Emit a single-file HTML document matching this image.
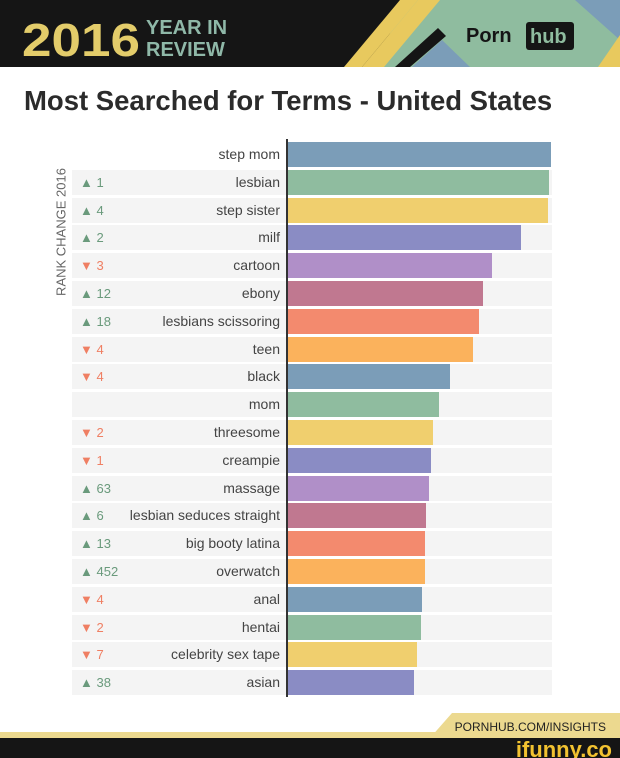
<!DOCTYPE html><html><head><style>
body{margin:0;width:620px;height:758px;background:#fff;font-family:"Liberation Sans",sans-serif;position:relative;overflow:hidden}
.a{position:absolute}
.row{position:absolute;left:72px;width:480px;height:25px;background:#f4f4f4}
.lab{position:absolute;right:340px;width:220px;text-align:right;font-size:14px;color:#444;line-height:25px}
.ch{position:absolute;left:80px;font-size:13px;line-height:25px}
.up{color:#6a9a7c}.dn{color:#ef7f63}
.bar{position:absolute;left:287px;height:25px}
</style></head><body>
<svg class="a" style="left:0;top:0" width="620" height="67">
<rect width="620" height="67" fill="#151515"/>
<polygon points="400,0 620,0 620,67 380,67" fill="#8fbc9f"/>
<polygon points="344,67 400,0 418,0 362,67" fill="#e8c95e"/>
<polygon points="362,67 418,0 440,0 384,67" fill="#e8c95e"/>
<polygon points="395,67 438,28 446,36 410,67" fill="#151515"/>
<polygon points="412,67 442,40 470,67" fill="#7b9db8"/>
<polygon points="575,0 620,0 620,40" fill="#7b9db8"/>
<polygon points="598,67 620,35 620,67" fill="#e8c95e"/>
<text x="22" y="56" font-family="Liberation Sans" font-weight="bold" font-size="46" fill="#e3cc6a" textLength="118" lengthAdjust="spacingAndGlyphs">2016</text>
<text x="146" y="34" font-family="Liberation Sans" font-weight="bold" font-size="20" fill="#8fb8a8">YEAR IN</text>
<text x="146" y="56" font-family="Liberation Sans" font-weight="bold" font-size="20" fill="#8fb8a8">REVIEW</text>
<text x="466" y="42" font-family="Liberation Sans" font-weight="bold" font-size="20" fill="#151515">Porn</text>
<rect x="526" y="22" width="48" height="28" rx="3" fill="#151515"/>
<text x="530" y="43" font-family="Liberation Sans" font-weight="bold" font-size="20" fill="#8fbc9f">hub</text>
</svg>
<div class="a" style="left:24px;top:85px;font-size:27.5px;font-weight:bold;color:#2b2b2b;white-space:nowrap">Most Searched for Terms - United States</div>
<div class="a" style="left:61px;top:232px;transform:translate(-50%,-50%) rotate(-90deg);font-size:13px;color:#666;white-space:nowrap">RANK CHANGE 2016</div>
<div id="c"></div>
<div class="a" style="left:286px;top:139px;width:2px;height:558px;background:#333"></div>
<svg class="a" style="left:0;top:710px" width="620" height="48">
<rect y="22" width="620" height="6" fill="#ecd98f"/>
<polygon points="430,28 452,3 620,3 620,28" fill="#ecd98f"/>
<rect y="28" width="620" height="20" fill="#151515"/>
<text x="606" y="21" text-anchor="end" font-family="Liberation Sans" font-size="12" fill="#222">PORNHUB.COM/INSIGHTS</text>
<text x="612" y="47" text-anchor="end" font-family="Liberation Sans" font-weight="bold" font-size="22" fill="#f2c230">ifunny.co</text>
</svg>
<script>
var d=[["step mom","",551],["lesbian","u1",549],["step sister","u4",548],["milf","u2",521],["cartoon","d3",492],["ebony","u12",483],["lesbians scissoring","u18",479],["teen","d4",473],["black","d4",450],["mom","",439],["threesome","d2",433],["creampie","d1",431],["massage","u63",429],["lesbian seduces straight","u6",426],["big booty latina","u13",425],["overwatch","u452",425],["anal","d4",422],["hentai","d2",421],["celebrity sex tape","d7",417],["asian","u38",414]];
var col=["#7b9db8","#8fbc9f","#f0cf6e","#8a8cc4","#b08fc8","#c07890","#f38a6e","#fbb25c"];
var h="";d.forEach(function(r,i){var y=Math.round(142+i*27.8);
if(i>0)h+='<div class="row" style="top:'+y+'px"></div>';
h+='<div class="lab" style="top:'+y+'px">'+r[0]+'</div>';
if(r[1]){var u=r[1][0]=="u";h+='<div class="ch '+(u?"up":"dn")+'" style="top:'+y+'px">'+(u?"▲":"▼")+' '+r[1].slice(1)+'</div>';}
h+='<div class="bar" style="top:'+y+'px;width:'+(r[2]-287)+'px;background:'+col[i%8]+'"></div>';});
document.getElementById("c").innerHTML=h;
</script>
</body></html>
